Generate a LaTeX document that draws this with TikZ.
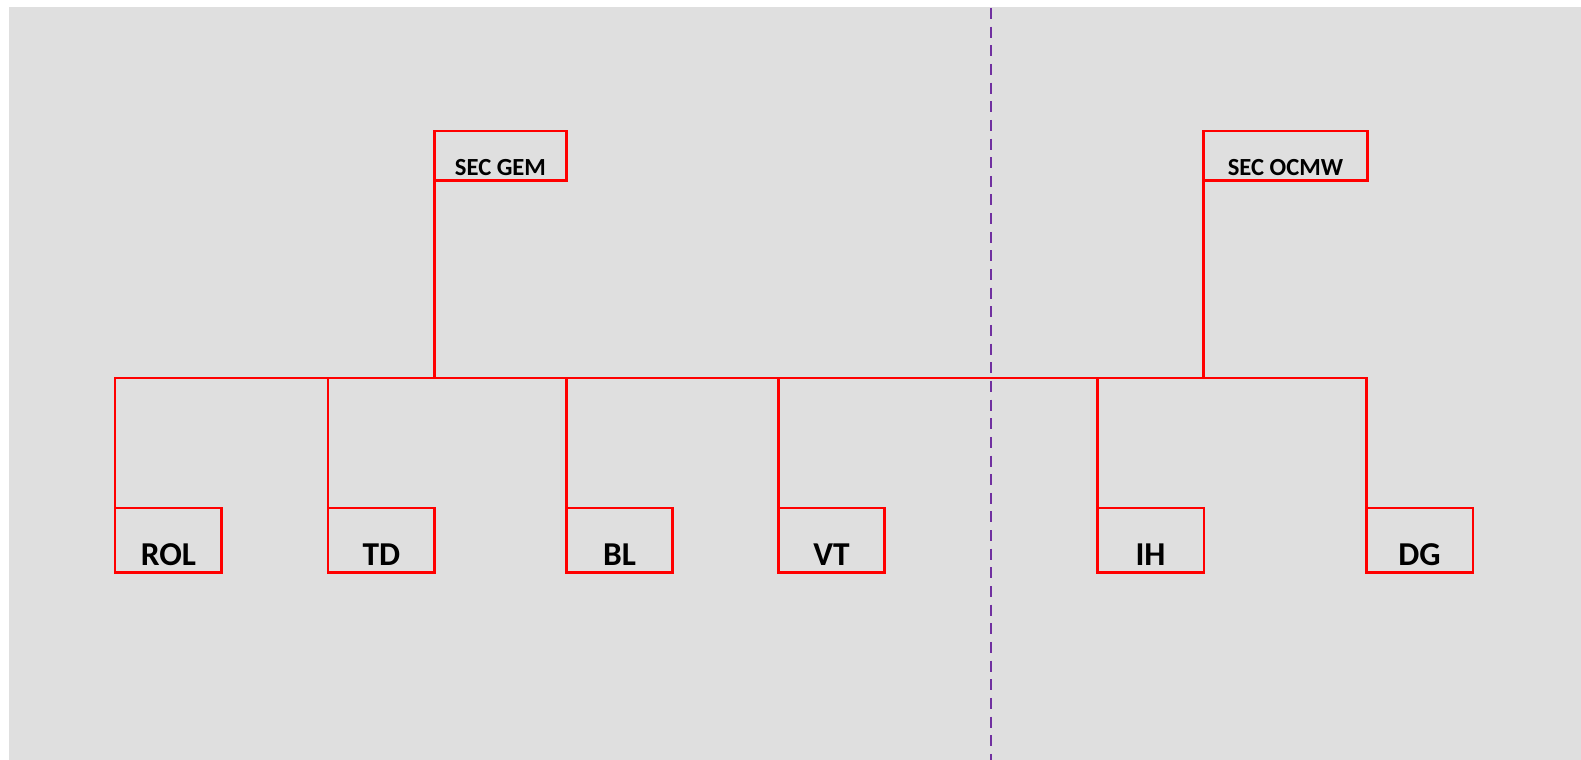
\documentclass[tikz,border=0pt]{standalone}
\usepackage{fontspec}
\setmainfont{Carlito}
\usetikzlibrary{positioning}

\definecolor{bggray}{HTML}{DFDFDF}
\definecolor{linered}{HTML}{FF0000}
\definecolor{divpurple}{HTML}{7030A0}

\begin{document}
\begin{tikzpicture}[x=0.02cm,y=-0.02cm,
  secbox/.style={draw=linered,line width=1.7pt,anchor=north west,inner sep=0pt,outer sep=0pt,
    minimum width=#1,text height=0.9cm,text depth=0.1cm,font=\bfseries\fontsize{14}{16}\selectfont},
  unitbox/.style={draw=linered,line width=1.7pt,anchor=north west,inner sep=0pt,outer sep=0pt,
    minimum width=2.14cm,text height=1.16cm,text depth=0.14cm,font=\bfseries\fontsize{19}{21}\selectfont},
  link/.style={draw=linered,line width=1.7pt,line cap=rect},
  divider/.style={draw=divpurple,line width=1.5pt,dash pattern=on 0.22cm off 0.153cm}]
\useasboundingbox (0,0) rectangle (1581,760);
\fill[bggray] (9,7) rectangle (1581,760);

% dividing line
\coordinate (divtop) at (991,8);
\coordinate (divbot) at (991,760);
\draw[divider] (divtop) -- (divbot);

% boxes
\node[secbox=2.66cm] (gem) at (434,131) {SEC GEM};
\node[secbox=3.3cm] (ocmw) at (1203,131) {SEC OCMW};
\node[unitbox] (rol) at (115,508) {ROL};
\node[unitbox] (td) at (328,508) {TD};
\node[unitbox] (bl) at (566,508) {BL};
\node[unitbox] (vt) at (778,508) {VT};
\node[unitbox] (ih) at (1097,508) {IH};
\node[unitbox] (dg) at (1366,508) {DG};

% bus
\coordinate (bus) at (0,378);
\draw[link] (rol.north west |- bus) -- (dg.north west |- bus);
\draw[link] (gem.south west) -- (gem.south west |- bus);
\draw[link] (ocmw.south west) -- (ocmw.south west |- bus);
\foreach \u in {rol,td,bl,vt,ih,dg}
  \draw[link] (\u.north west) -- (\u.north west |- bus);
\end{tikzpicture}
\end{document}
